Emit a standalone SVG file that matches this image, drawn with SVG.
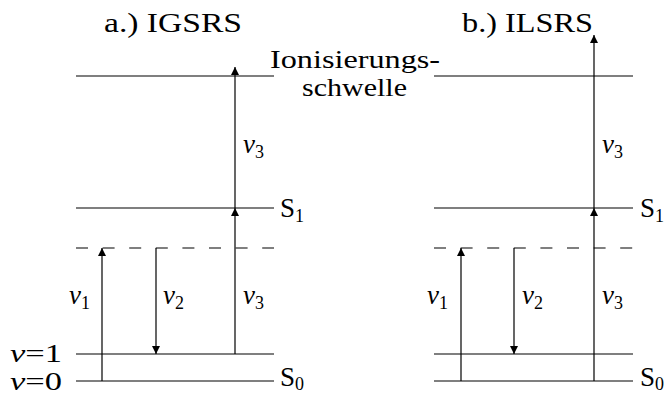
<svg xmlns="http://www.w3.org/2000/svg" width="667" height="396" viewBox="0 0 667 396">
<defs>
<marker id="ah" markerWidth="8" markerHeight="12" refX="8" refY="4" orient="auto" markerUnits="userSpaceOnUse" viewBox="0 0 8 8">
<path d="M0,0 L8,4 L0,8 Z" fill="#000"/>
</marker>
</defs>
<style>
.lv{stroke:#000;stroke-width:1.2;fill:none}
.ds{stroke:#000;stroke-width:1.2;stroke-dasharray:12 14.6;fill:none}
.ar{stroke:#000;stroke-width:1.2;fill:none;marker-end:url(#ah)}
.t{font-family:'Liberation Serif','DejaVu Serif',serif;font-size:27px;fill:#000}
.ion{font-size:25px}
.nu{font-style:italic}
.sub{font-size:18px;font-style:normal}
</style>
<rect width="667" height="396" fill="#fff"/>
<g id="title-a"><text class="t" x="104" y="32" textLength="138" lengthAdjust="spacingAndGlyphs">a.) IGSRS</text></g>
<g id="title-b"><text class="t" x="462" y="32" textLength="131" lengthAdjust="spacingAndGlyphs">b.) ILSRS</text></g>
<g id="ion-label"><text class="t ion" x="270" y="68" textLength="170" lengthAdjust="spacingAndGlyphs">Ionisierungs-</text><text class="t ion" x="302" y="96" textLength="105" lengthAdjust="spacingAndGlyphs">schwelle</text></g>
<g id="levels-a">
<line class="lv" x1="76" y1="76" x2="274" y2="76"/>
<line class="lv" x1="76" y1="208" x2="274" y2="208"/>
<line class="ds" x1="76" y1="248" x2="274" y2="248"/>
<line class="lv" x1="76" y1="354" x2="274" y2="354"/>
<line class="lv" x1="76" y1="381" x2="274" y2="381"/>
</g>
<g id="levels-b">
<line class="lv" x1="434" y1="76" x2="633" y2="76"/>
<line class="lv" x1="434" y1="208" x2="633" y2="208"/>
<line class="ds" x1="434" y1="248" x2="633" y2="248"/>
<line class="lv" x1="434" y1="354" x2="633" y2="354"/>
<line class="lv" x1="434" y1="381" x2="633" y2="381"/>
</g>
<g id="connectors">
<line class="ar" x1="102" y1="381" x2="102" y2="248"/>
<line class="ar" x1="156" y1="248" x2="156" y2="354"/>
<line class="ar" x1="235" y1="354" x2="235" y2="208"/>
<line class="ar" x1="235" y1="208" x2="235" y2="67"/>
<line class="ar" x1="461" y1="381" x2="461" y2="248"/>
<line class="ar" x1="514" y1="248" x2="514" y2="354"/>
<line class="ar" x1="594" y1="381" x2="594" y2="208"/>
<line class="ar" x1="594" y1="208" x2="594" y2="35"/>
</g>
<g id="labels-a">
<text class="t" x="280" y="217">S<tspan class="sub" dy="5">1</tspan></text>
<text class="t" x="280" y="386">S<tspan class="sub" dy="4">0</tspan></text>
<text class="t ion" x="10" y="362" textLength="52" lengthAdjust="spacingAndGlyphs"><tspan class="nu">v</tspan>=1</text>
<text class="t ion" x="10" y="390" textLength="52" lengthAdjust="spacingAndGlyphs"><tspan class="nu">v</tspan>=0</text>
<text class="t nu" x="69" y="304">ν<tspan class="sub" dy="5">1</tspan></text>
<text class="t nu" x="163" y="304">ν<tspan class="sub" dy="5">2</tspan></text>
<text class="t nu" x="243" y="304">ν<tspan class="sub" dy="5">3</tspan></text>
<text class="t nu" x="243" y="153">ν<tspan class="sub" dy="5">3</tspan></text>
</g>
<g id="labels-b">
<text class="t" x="640" y="217">S<tspan class="sub" dy="5">1</tspan></text>
<text class="t" x="640" y="386">S<tspan class="sub" dy="4">0</tspan></text>
<text class="t nu" x="427" y="304">ν<tspan class="sub" dy="5">1</tspan></text>
<text class="t nu" x="522" y="304">ν<tspan class="sub" dy="5">2</tspan></text>
<text class="t nu" x="602" y="304">ν<tspan class="sub" dy="5">3</tspan></text>
<text class="t nu" x="602" y="153">ν<tspan class="sub" dy="5">3</tspan></text>
</g>
</svg>
